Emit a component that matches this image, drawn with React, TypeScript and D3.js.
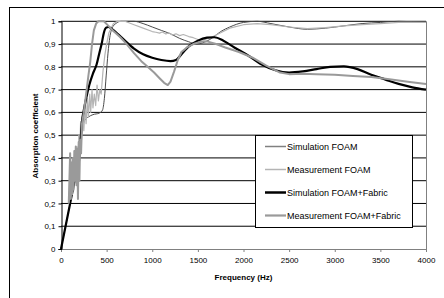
import { useEffect, useRef } from "react";
import * as d3 from "d3";

// frequency (Hz), absorption coefficient
const simFoam: [number, number][] = [
  [0, 0], [50, 0.1], [100, 0.2], [150, 0.3], [190, 0.38], [215, 0.47], [235, 0.53], [260, 0.565],
  [300, 0.58], [350, 0.59], [420, 0.597], [455, 0.61], [475, 0.66], [495, 0.76], [515, 0.86],
  [535, 0.93], [560, 0.97], [600, 0.99], [660, 1.0], [800, 1.0], [900, 0.99], [1000, 0.975],
  [1100, 0.96], [1200, 0.945], [1300, 0.925], [1400, 0.91], [1480, 0.9], [1550, 0.905],
  [1650, 0.925], [1750, 0.955], [1850, 0.975], [2000, 0.995], [2150, 1.0], [2300, 0.99],
  [2500, 0.975], [2700, 0.965], [2900, 0.97], [3100, 0.98], [3300, 0.99], [3500, 0.995],
  [3700, 1.0], [4000, 0.995]
];

const measFoam: [number, number][] = [
  [85, 0.2], [95, 0.3], [105, 0.21], [115, 0.35], [125, 0.25], [135, 0.4], [145, 0.28], [155, 0.42],
  [165, 0.33], [175, 0.45], [185, 0.36], [195, 0.5], [205, 0.42], [215, 0.56], [225, 0.48],
  [240, 0.6], [250, 0.52], [265, 0.63], [275, 0.55], [290, 0.66], [300, 0.58], [315, 0.68],
  [325, 0.6], [340, 0.7], [350, 0.62], [365, 0.68], [380, 0.63], [395, 0.72], [410, 0.65],
  [425, 0.7], [440, 0.68], [460, 0.78], [480, 0.85], [500, 0.9], [525, 0.95], [550, 0.97],
  [575, 0.99], [620, 1.0], [700, 1.0], [800, 0.985], [900, 0.97], [1000, 0.955], [1040, 0.952],
  [1080, 0.948], [1110, 0.953], [1150, 0.944], [1180, 0.95], [1220, 0.94], [1260, 0.945],
  [1300, 0.937], [1340, 0.942], [1400, 0.933], [1450, 0.928], [1500, 0.92], [1560, 0.918],
  [1650, 0.93], [1750, 0.95], [1850, 0.97], [2000, 0.985], [2150, 0.99], [2300, 0.985],
  [2500, 0.975], [2700, 0.968], [2900, 0.972], [3100, 0.98], [3300, 0.985], [3500, 0.99],
  [3700, 0.995], [4000, 0.995]
];

const simFabric: [number, number][] = [
  [0, 0], [50, 0.1], [100, 0.2], [150, 0.3], [190, 0.36], [210, 0.45], [230, 0.56], [250, 0.61],
  [275, 0.66], [310, 0.72], [350, 0.77], [390, 0.81], [420, 0.86], [445, 0.9], [470, 0.95],
  [495, 0.972], [520, 0.975], [560, 0.965], [620, 0.945], [700, 0.915], [800, 0.88], [900, 0.855],
  [1000, 0.84], [1100, 0.83], [1200, 0.825], [1260, 0.83], [1330, 0.86], [1400, 0.89],
  [1500, 0.915], [1600, 0.928], [1680, 0.93], [1780, 0.915], [1900, 0.885], [2050, 0.85],
  [2200, 0.81], [2350, 0.785], [2500, 0.775], [2650, 0.78], [2800, 0.79], [2950, 0.8],
  [3100, 0.802], [3250, 0.79], [3400, 0.765], [3550, 0.745], [3700, 0.725], [3850, 0.71],
  [4000, 0.7]
];

const measFabric: [number, number][] = [
  [85, 0.2], [100, 0.42], [108, 0.22], [115, 0.38], [122, 0.24], [130, 0.4], [138, 0.26],
  [146, 0.43], [154, 0.3], [162, 0.45], [170, 0.28], [178, 0.44], [186, 0.22], [194, 0.47],
  [202, 0.3], [210, 0.48], [220, 0.42], [230, 0.55], [250, 0.6], [275, 0.68], [300, 0.76],
  [320, 0.82], [340, 0.9], [360, 0.96], [385, 0.99], [410, 1.0], [470, 1.0], [520, 0.98],
  [580, 0.955], [650, 0.93], [720, 0.9], [800, 0.86], [880, 0.825], [950, 0.8], [1020, 0.775],
  [1080, 0.75], [1130, 0.73], [1170, 0.72], [1200, 0.735], [1240, 0.78], [1280, 0.83],
  [1320, 0.865], [1380, 0.885], [1450, 0.9], [1530, 0.91], [1600, 0.912], [1700, 0.9],
  [1800, 0.885], [1950, 0.865], [2100, 0.84], [2250, 0.805], [2400, 0.775], [2500, 0.768],
  [2650, 0.77], [2800, 0.768], [3000, 0.765], [3200, 0.76], [3400, 0.755], [3600, 0.745],
  [3800, 0.735], [4000, 0.725]
];

const xTicks = [0, 500, 1000, 1500, 2000, 2500, 3000, 3500, 4000];
const yTicks = [0, 0.1, 0.2, 0.3, 0.4, 0.5, 0.6, 0.7, 0.8, 0.9, 1];
const seriesNames = ["Simulation FOAM", "Measurement FOAM", "Simulation FOAM+Fabric", "Measurement FOAM+Fabric"];

function App() {
  const canvas = useRef<SVGSVGElement>(null);

  useEffect(() => {
    const width = 444;
    const height = 298;
    const svg = d3.select(canvas.current).attr("width", width).attr("height", height);
    svg.selectAll("*").remove();

    const x = d3.scaleLinear().domain([0, 4000]).range([61, 426]);
    const y = d3.scaleLinear().domain([0, 1]).range([249, 21.3]);
    const font = "Liberation Sans, Arial, sans-serif";

    // outer frame
    svg.append("rect").attr("x", 9.5).attr("y", 7.5).attr("width", 460).attr("height", 320)
      .attr("fill", "white").attr("stroke", "black");

    // gridlines
    svg.selectAll(".grid").data(yTicks.filter(d => d > 0)).join("line")
      .attr("x1", x(0)).attr("x2", x(4000))
      .attr("y1", d => y(d)).attr("y2", d => y(d))
      .attr("stroke", "black").attr("stroke-width", 1);

    // right border of plot
    svg.append("line").attr("x1", 426.5).attr("x2", 426.5).attr("y1", y(1)).attr("y2", y(0))
      .attr("stroke", "#808080");

    // x axis
    const xAxis = svg.append("g").attr("transform", `translate(0, ${y(0)})`)
      .call(d3.axisBottom(x).tickValues(xTicks).tickSize(3).tickPadding(5).tickFormat(d => String(d)));
    xAxis.select(".domain").attr("stroke", "#808080");
    xAxis.selectAll(".tick line").attr("stroke", "#808080");
    xAxis.selectAll("text").attr("font-family", font).attr("font-size", 8).attr("fill", "black");

    // y axis
    const fmt = (d: number) => (d === 0 || d === 1 ? String(d) : d3.format(".1f")(d).replace(".", ","));
    const yAxis = svg.append("g").attr("transform", `translate(61.5, 0)`)
      .call(d3.axisLeft(y).tickValues(yTicks).tickSize(3).tickPadding(3).tickFormat(d => fmt(+d)));
    yAxis.select(".domain").attr("stroke", "black");
    yAxis.selectAll("text").attr("font-family", font).attr("font-size", 8).attr("fill", "black");

    // axis titles
    svg.append("text").attr("x", 243.5).attr("y", 280).attr("text-anchor", "middle")
      .attr("font-family", font).attr("font-size", 8).attr("font-weight", "bold")
      .text("Frequency (Hz)");
    svg.append("text").attr("transform", "translate(38, 136) rotate(-90)").attr("text-anchor", "middle")
      .attr("font-family", font).attr("font-size", 8).attr("font-weight", "bold")
      .text("Absorption coefficient");

    const smooth = d3.line<[number, number]>().x(d => x(d[0])).y(d => y(d[1])).curve(d3.curveMonotoneX);
    const raw = d3.line<[number, number]>().x(d => x(d[0])).y(d => y(d[1]));

    const series = [
      { data: simFoam, gen: smooth, color: "#4a4a4a", w: 1 },
      { data: measFoam, gen: raw, color: "#b4b4b4", w: 1.2 },
      { data: simFabric, gen: smooth, color: "#000000", w: 2.2 },
      { data: measFabric, gen: raw, color: "#9a9a9a", w: 2 }
    ];

    svg.selectAll(".series").data(series).join("path")
      .attr("d", d => d.gen(d.data))
      .attr("fill", "none")
      .attr("stroke", d => d.color)
      .attr("stroke-width", d => d.w)
      .attr("stroke-linejoin", "round");

    // legend
    const lg = svg.append("g");
    lg.append("rect").attr("x", 255.5).attr("y", 135.5).attr("width", 157).attr("height", 92)
      .attr("fill", "white").attr("stroke", "black");
    const legendColors = ["#808080", "#b4b4b4", "#000000", "#9a9a9a"];
    const legendWidths = [1.5, 1.5, 2.5, 2.2];
    seriesNames.forEach((name, i) => {
      const cy = 146.5 + i * 23;
      lg.append("line").attr("x1", 265).attr("x2", 286).attr("y1", cy).attr("y2", cy)
        .attr("stroke", legendColors[i]).attr("stroke-width", legendWidths[i]);
      lg.append("text").attr("x", 287).attr("y", cy + 3.3)
        .attr("font-family", font).attr("font-size", 9).attr("fill", "black")
        .text(name);
    });
  }, []);

  return (
    <svg ref={canvas} style={{ position: "absolute", left: 0, top: 0 }} />
  );
}

export default App;
